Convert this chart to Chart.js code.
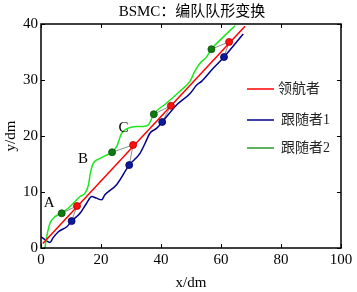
<!DOCTYPE html>
<html>
<head>
<meta charset="utf-8">
<script src="https://cdn.jsdelivr.net/npm/chart.js@4"></script>
<style>
  html, body { margin: 0; padding: 0; background: #fff; }
  #wrap { width: 357px; height: 292px; }
</style>
</head>
<body>
<div id="wrap"><canvas id="c" width="357" height="292"></canvas></div>
<script>
// leader path (straight line)
const leaderX = [0.6, 68];
const leaderY = [0.8, 39.6];

// follower 1 (blue)
const f1X = [0, 1.5, 3, 4, 5.8, 8.6, 10.2, 13, 15.2, 16.9, 18.5, 20.2, 21.3, 25.2, 29.4, 33, 34.7, 36.3, 38.6, 40.4, 45.5, 49.7, 51.9, 53.6, 57.4, 61, 67.4];
const f1Y = [2.0, 1.4, 1.0, 1.8, 2.9, 3.8, 4.8, 6.2, 8.0, 9.2, 8.9, 8.6, 9.5, 11.3, 14.8, 16.9, 18.7, 20.5, 21.4, 22.5, 25.7, 27.6, 29.1, 29.8, 32.1, 34.1, 38.2];

// follower 2 (green)
const f2X = [1.3, 1.9, 3, 4.7, 6.9, 9.7, 11.3, 13, 14.7, 15.8, 16.5, 17.4, 19.7, 21.9, 23.7, 25.2, 26.9, 29.1, 31.9, 34.1, 35.8, 37.6, 41.9, 46.3, 49.7, 51.3, 53, 55, 56.8, 60.8, 64.7];
const f2Y = [0, 2.0, 4.4, 5.6, 6.2, 7.4, 8.3, 9.2, 9.8, 11.2, 13.5, 15.1, 16.0, 16.6, 17.1, 18.1, 20.5, 21.4, 21.7, 21.7, 22.0, 23.9, 25.9, 28.0, 29.8, 31.6, 33.0, 34.0, 35.5, 37.7, 39.7];

// formation snapshots
const leadMarkX = [12, 30.7, 43.3, 62.7];
const leadMarkY = [7.5, 18.4, 25.4, 36.8];
const f1MarkX = [10.2, 29.4, 40.4, 61];
const f1MarkY = [4.8, 14.8, 22.5, 34.1];
const f2MarkX = [6.9, 23.7, 37.6, 56.8];
const f2MarkY = [6.2, 17.1, 23.9, 35.5];

// stage labels
const stageText = ['A', 'B', 'C'];
const stageX = [2.7, 14, 27.5];
const stageY = [8, 15.9, 21.4];

const xTicks = [0, 20, 40, 60, 80, 100];
const yTicks = [0, 10, 20, 30, 40];

const legendNames = ['领航者', '跟随者1', '跟随者2'];
const legendColors = ['#ff0000', '#00008b', '#2a9a2a'];

const serif = '"Liberation Serif", "Noto Sans CJK SC", serif';

function pts(xs, ys) {
    return xs.map((x, i) => ({x: x, y: ys[i]}));
}

const datasets = [];
// gray links between the three agents
for (let i = 0; i < leadMarkX.length; i++) {
    datasets.push({
        data: [{x: f2MarkX[i], y: f2MarkY[i]}, {x: leadMarkX[i], y: leadMarkY[i]}, {x: f1MarkX[i], y: f1MarkY[i]}],
        showLine: true, borderColor: '#8c8c8c', borderWidth: 1, pointRadius: 0, order: 5
    });
}
datasets.push({data: pts(f2X, f2Y), showLine: true, borderColor: '#1ee61e', borderWidth: 1.5, pointRadius: 0, cubicInterpolationMode: 'monotone', order: 4});
datasets.push({data: pts(f1X, f1Y), showLine: true, borderColor: '#00008b', borderWidth: 1.5, pointRadius: 0, cubicInterpolationMode: 'monotone', order: 4});
datasets.push({data: pts(leaderX, leaderY), showLine: true, borderColor: '#ff0000', borderWidth: 1.5, pointRadius: 0, order: 3});
datasets.push({data: pts(f2MarkX, f2MarkY), showLine: false, pointRadius: 3.5, backgroundColor: '#0f7a0f', borderColor: '#0a4d0a', borderWidth: 0.8, order: 1});
datasets.push({data: pts(f1MarkX, f1MarkY), showLine: false, pointRadius: 3.5, backgroundColor: '#0a1a9a', borderColor: '#000060', borderWidth: 0.8, order: 1});
datasets.push({data: pts(leadMarkX, leadMarkY), showLine: false, pointRadius: 3.5, backgroundColor: '#ff1010', borderColor: '#b00000', borderWidth: 0.8, order: 1});

const decor = {
    id: 'decor',
    afterDraw(chart) {
        const ctx = chart.ctx;
        const a = chart.chartArea;
        const xs = chart.scales.x, ys = chart.scales.y;
        ctx.save();
        // box
        ctx.strokeStyle = '#000';
        ctx.lineWidth = 1.5;
        ctx.strokeRect(a.left, a.top, a.right - a.left, a.bottom - a.top);
        // inward ticks
        ctx.lineWidth = 1;
        ctx.beginPath();
        xTicks.forEach(v => {
            const px = Math.round(xs.getPixelForValue(v)) + 0.5;
            ctx.moveTo(px, a.bottom); ctx.lineTo(px, a.bottom - 4);
            ctx.moveTo(px, a.top); ctx.lineTo(px, a.top + 4);
        });
        yTicks.forEach(v => {
            const py = Math.round(ys.getPixelForValue(v)) + 0.5;
            ctx.moveTo(a.left, py); ctx.lineTo(a.left + 4, py);
            ctx.moveTo(a.right, py); ctx.lineTo(a.right - 4, py);
        });
        ctx.stroke();
        // stage letters
        ctx.fillStyle = '#000';
        ctx.font = '15px ' + serif;
        ctx.textAlign = 'center';
        ctx.textBaseline = 'middle';
        stageText.forEach((t, i) => {
            ctx.fillText(t, xs.getPixelForValue(stageX[i]), ys.getPixelForValue(stageY[i]));
        });
        // title
        ctx.font = '15px ' + serif;
        ctx.fillText('BSMC：编队队形变换', 192, 12);
        // legend
        const rowY = [89, 120, 148];
        const textX = [278, 281, 281];
        ctx.font = '14px ' + serif;
        ctx.textAlign = 'left';
        legendNames.forEach((n, i) => {
            ctx.strokeStyle = legendColors[i];
            ctx.lineWidth = 1.5;
            ctx.beginPath();
            ctx.moveTo(247, rowY[i]); ctx.lineTo(274, rowY[i]);
            ctx.stroke();
            ctx.fillStyle = '#222';
            ctx.fillText(n, textX[i], rowY[i]);
        });
        ctx.restore();
    }
};

new Chart(document.getElementById('c').getContext('2d'), {
    type: 'scatter',
    data: {datasets: datasets},
    options: {
        responsive: false,
        animation: false,
        layout: {padding: {top: 24, right: 16, left: 0, bottom: 0}},
        plugins: {legend: {display: false}, tooltip: {enabled: false}, title: {display: false}},
        scales: {
            x: {
                type: 'linear', min: 0, max: 100,
                afterBuildTicks: s => { s.ticks = xTicks.map(v => ({value: v})); },
                afterFit: s => { s.height = 44; },
                grid: {display: false, drawTicks: false},
                border: {display: false},
                ticks: {color: '#000', padding: 3, font: {family: serif, size: 15}, maxRotation: 0},
                title: {display: true, text: 'x/dm', color: '#000', font: {family: serif, size: 15, lineHeight: 1}, padding: {top: 0, bottom: 1}}
            },
            y: {
                type: 'linear', min: 0, max: 40,
                afterBuildTicks: s => { s.ticks = yTicks.map(v => ({value: v})); },
                afterFit: s => { s.width = 41; },
                grid: {display: false, drawTicks: false},
                border: {display: false},
                ticks: {color: '#000', padding: 3, font: {family: serif, size: 15}},
                title: {display: true, text: 'y/dm', color: '#000', font: {family: serif, size: 15, lineHeight: 1}, padding: {top: 4, bottom: 0}}
            }
        }
    },
    plugins: [decor]
});
</script>
</body>
</html>
